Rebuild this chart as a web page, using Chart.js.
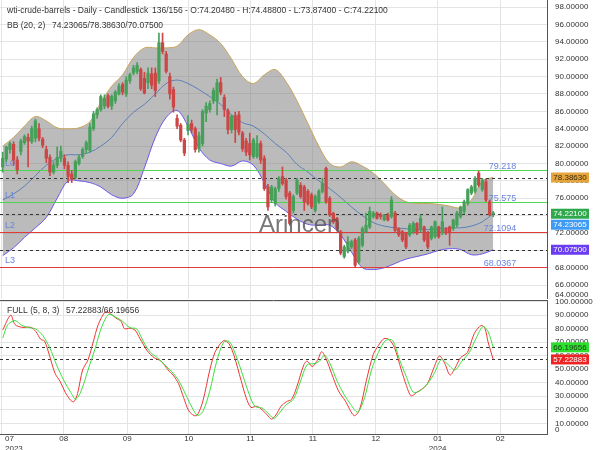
<!DOCTYPE html>
<html><head><meta charset="utf-8">
<script src="https://cdn.jsdelivr.net/npm/chart.js@4.4.1/dist/chart.umd.min.js"></script>
<style>
html,body{margin:0;padding:0;background:#fff;}
#wrap{position:relative;width:600px;height:450px;overflow:hidden;background:#fff;}
#top{position:absolute;left:0;top:0;width:600px;height:299px;}
#bot{position:absolute;left:0;top:299px;width:600px;height:151px;}
</style></head><body>
<div id="wrap"><div id="top"><canvas id="c1"></canvas></div><div id="bot"><canvas id="c2"></canvas></div></div>
<script>
// ---- candle data (index = trading day) ----
const opens = [
 79.6,80.5,81.6,82.2,80.4,81.4,82.4,83.0,82.5,82.9,
 84.0,82.8,81.6,80.7,79.0,79.8,80.6,80.6,79.8,78.8,
 78.4,80.0,80.8,81.6,81.5,84.0,85.6,86.2,86.6,87.8,
 86.6,87.2,88.0,89.1,88.0,89.5,90.4,90.6,90.8,89.8,
 89.3,90.3,90.4,89.5,93.9,92.6,90.0,88.5,85.2,84.4,
 82.7,83.8,84.6,84.0,81.7,82.3,85.8,86.2,87.2,87.2,
 89.3,87.6,86.1,83.9,85.5,85.6,83.5,82.6,82.3,80.8,
 80.8,82.3,80.6,77.3,75.8,75.4,77.1,78.5,78.1,76.6,
 74.6,76.6,77.5,77.3,76.8,76.4,74.6,75.6,76.8,79.45,
 76.0,74.26,73.7,72.15,69.3,69.9,70.4,71.2,68.7,70.6,
 72.15,72.7,73.9,74.3,74.1,73.5,74.1,73.9,74.3,72.5,
 72.15,71.96,71.8,72.15,73.1,72.35,72.7,72.0,71.4,71.6,
 72.7,72.0,72.5,72.7,72.5,72.9,73.9,74.5,75.4,76.6,
 76.8,78.9,77.0,77.9,75.6,74.2048];
const highs = [
 81.3,82.0,82.5,82.5,80.8,82.8,83.3,83.4,84.3,85.1,
 84.6,83.0,82.0,81.0,80.2,81.9,82.0,81.0,80.2,79.2,
 80.4,81.0,81.8,82.6,84.6,86.0,86.4,87.9,87.9,88.0,
 87.9,88.4,89.2,89.3,90.0,90.4,91.3,91.6,91.0,90.5,
 91.0,91.0,91.0,95.0,95.0,92.9,90.4,88.8,85.6,84.6,
 82.9,85.5,85.0,84.2,83.6,86.2,87.0,87.2,88.7,89.7,
 89.9,87.9,86.3,85.6,85.9,86.0,83.7,82.9,83.5,82.9,
 83.2,82.6,80.9,77.6,77.5,77.3,78.5,79.6,78.3,76.8,
 76.4,78.3,77.8,77.5,77.0,76.6,76.4,77.0,78.3,79.6,
 76.2,74.4,73.8,72.3,70.6,71.6,71.2,71.4,71.6,72.7,
 74.3,75.0,74.5,74.4,74.3,74.1,74.3,76.2,74.5,72.6,
 72.3,72.0,73.1,73.3,73.2,74.1,72.8,72.2,72.8,73.4,
 72.8,75.0,72.6,72.8,73.6,74.5,75.1,75.8,77.1,77.5,
 78.5,79.1,78.3,78.2,75.8,74.488];
const lows = [
 79.0,80.2,81.2,79.8,78.8,81.0,82.2,79.6,82.3,82.5,
 82.6,81.8,80.1,78.6,78.8,79.5,80.2,79.4,77.8,77.8,
 78.2,79.8,80.6,81.2,81.3,83.8,85.2,86.0,86.3,86.4,
 86.2,86.9,87.9,87.9,87.7,89.2,90.2,90.3,88.4,88.0,
 88.6,88.6,87.7,89.2,92.6,90.4,87.4,85.9,84.0,82.5,
 80.9,83.3,83.5,81.3,81.3,82.0,84.8,85.9,86.9,85.6,
 87.9,85.4,83.4,83.5,82.4,83.3,81.4,80.9,80.4,80.6,
 80.6,80.0,76.9,74.6,75.5,75.1,76.8,77.5,75.9,72.9,
 74.3,76.4,76.0,74.6,75.2,74.8,74.4,75.4,76.6,75.4,
 73.9,73.1,72.3,69.5,69.1,69.7,70.2,68.1,68.5,70.4,
 72.0,72.5,73.7,73.6,73.6,73.4,73.4,73.7,72.1,71.6,
 71.0,70.2,71.6,71.9,71.8,72.1,71.0,70.2,71.2,71.4,
 71.4,71.8,71.8,70.6,72.3,72.7,73.7,74.2,75.2,76.4,
 76.6,77.3,76.8,75.6,74.0,73.874];
const closes = [
 80.6,81.9,82.3,80.4,79.3,82.6,83.1,82.6,84.0,84.9,
 82.9,82.1,80.6,79.0,79.8,80.7,81.4,79.8,78.5,78.2,
 80.2,80.7,81.6,82.4,84.2,85.7,86.2,87.7,87.5,86.6,
 87.7,88.2,88.9,88.2,89.6,90.2,91.0,91.3,88.6,88.1,
 90.4,89.0,88.4,93.9,92.9,90.6,88.0,86.5,84.3,82.7,
 81.2,84.5,83.9,81.6,83.2,86.0,86.6,86.9,88.4,89.3,
 88.2,86.2,83.9,85.4,83.9,83.6,81.7,81.3,81.0,82.7,
 82.3,80.4,77.1,75.0,77.3,77.1,78.3,77.7,76.2,73.1,
 76.2,78.1,76.2,75.6,75.4,75.0,76.2,76.8,77.7,75.6,
 74.1,73.3,72.5,69.7,70.4,71.0,71.0,68.3,71.4,72.5,
 72.9,74.5,74.3,73.7,73.9,74.1,73.5,75.8,72.3,71.8,
 71.2,70.4,72.9,73.1,72.0,73.7,71.2,70.4,72.7,73.3,
 71.6,73.3,72.0,72.0,73.5,74.3,75.0,75.6,77.0,77.3,
 78.3,77.5,78.1,75.8,74.1,74.221];

// ---- Bollinger band (20,2) readings ----
const bandIdx  = [0,3,6,9,12,15,18,21,24,27,30,33,36,39,42,45,48,51,54,57,60,63,66,69,72,75,78,81,84,87,90,93,96,99,102,105,108,111,114,117,120,123,126,129,132,135];
const bbUpper  = [82.0,83.0,84.3,85.4,84.9,84.1,84.0,84.1,84.8,87.0,88.9,90.2,92.2,93.3,93.3,93.3,93.5,94.8,95.4,94.8,93.8,92.0,90.0,89.2,90.2,90.8,89.4,87.2,84.6,82.0,80.0,79.6,80.2,79.7,78.9,77.7,76.4,75.6,75.4,75.4,75.3,75.1,74.9,75.8,78.0,78.3863];
const bbMiddle = [75.8,76.5,77.4,78.6,79.8,80.6,81.0,81.0,81.3,82.0,83.0,84.6,85.9,86.8,88.0,89.2,89.6,89.2,88.5,87.7,86.8,85.6,84.7,84.3,83.4,82.3,81.3,79.9,79.0,78.0,77.1,76.1,75.0,74.0,73.2,72.8,72.6,72.5,72.4,72.4,72.5,72.6,72.6,72.8,73.3,74.23065];
const bbLower  = [69.4,70.3,71.5,72.6,73.8,76.0,78.0,78.0,77.8,77.3,76.4,76.0,76.5,79.5,83.0,85.3,86.1,84.3,81.8,80.4,80.0,79.7,80.3,79.8,77.8,75.5,74.5,73.6,73.0,72.9,72.9,71.8,69.8,68.0,67.8,68.0,68.5,69.0,69.3,69.6,70.0,70.2,70.1,69.5,69.6,70.075];

// ---- Full stochastic (5,8,3) readings ----
const kIdx = [0,2.2,3.4,5.3,7.7,9.1,10.5,11.5,12.9,14.4,15.8,17.2,18.7,19.6,20.6,22,23.5,24.9,26.3,28.3,29.7,31.1,32.6,33.5,35,36.4,37.8,39.8,41.7,43.6,45.5,46.9,48.4,49.8,51.2,52.7,53.6,55.1,57,58.4,59.9,61,62.3,63.7,65.6,67,68.3,69.9,71.4,72.8,74,75.2,76.6,78.1,79.5,80.9,82.9,83.8,85.2,86.7,87.8,89.1,90.5,92.4,94.3,96.7,98.2,100.1,102,103.4,104.9,106.3,107.8,109.7,111.1,112.4,114,115.4,116.9,118.8,120.2,121.6,123.1,124.5,126,127.9,129.8,131.7,132.7,133.6,135];
const kVal = [79,90,83,81,81,78,72,71,60,47,41,33,27,26,32,49.5,57,70,83,92.6,91,88,85.4,80,80.3,79,72.6,63.6,58.5,56,49.5,45.7,39.3,29,19.3,15.7,16.2,26.5,49.5,62.4,68.8,71.3,68.8,59.8,41.8,29,21.8,22.6,20,16.2,13.1,16.2,22.6,26,27.7,36.7,53.4,56,52,57,63,57,47,34,26.5,15.7,20,41.8,61,67.5,72.6,72,66.2,49.5,38,30.3,33,35.4,39.3,52,59.8,54.7,45.7,50.8,58.5,62.4,76.5,82.4,80.3,70,57.22883];
const dIdx = [0,1.4,3.4,5.3,7.2,9.1,11,12.9,14.8,16.8,18.7,20.1,21.6,23.5,25.4,27.3,29.2,31.1,33,35,36.9,38.8,40.7,42.6,44.5,46.5,48.4,50.3,52.2,53.6,55.1,57,58.9,60.8,62.3,63.7,65.6,67.5,69.4,71.4,73.3,74.7,76.1,78.1,80,81.9,83.8,85.7,87.2,88.6,90,91.95,93.9,95.8,97.7,99.6,101.5,103.4,105.4,107.3,109.2,111.1,113,114.9,116.9,118.8,120.7,122.6,124.5,126.4,128.4,130.3,132.2,133.6,135];
const dVal = [73,82.9,86,82.4,80.8,79.8,75,66.2,53.4,41.8,33,27.7,34,49.5,65,81.6,90.6,88.5,85.4,80.8,79.8,70,62.4,58.5,53.4,48.3,41.8,31.6,21.3,15.7,18.8,34,55.9,70,70.6,63.6,49.5,34,22.6,21.3,16.7,13.6,17.5,23.9,27.7,40.6,53.4,54.1,56,60.3,54.7,41.8,31.6,23.9,18.3,29,49.5,62.4,71.3,71.3,57.2,44.4,33,34.2,39.3,47,57.2,53.4,49.5,56,62.4,73,81.6,77.7,66.19656];

// ---- axes / levels ----
const monthTicks  = [-0.35,16.8,34.25,51.2,68.2,85.35,102.7,119.7,136.9];
const monthLabels = [["07","2023"],["08"],["09"],["10"],["11"],["11"],["12"],["01","2024"],["02"]];
const priceTicks  = [66,68,70,72,74,76,78,80,82,84,86,88,90,92,94,96,98];
const stochTicks  = [10,20,30,40,50,60,70,80,90,100];
const priceEdgeLabel = "64.00000";
const stochEdgeLabel = "0";
const levelVals   = [79.218,75.575,72.1094,68.0367];
const levelNames  = ["L0","L1","L2","L3"];
const levelColors = ["#4fd64f","#4fd64f","#e03a3a","#e03a3a"];
const priceDashed = [78.3863,74.221,70.075];
const stochDashed = [66.19656,57.22883];
const priceBadges = [
  {v:78.3863, t:"78.38630", bg:"#e6a53c", fg:"#3a2a10"},
  {v:74.221,  t:"74.22100", bg:"#2fa84c", fg:"#ffffff"},
  {v:74.23065,t:"74.23065", bg:"#3d9bf5", fg:"#ffffff"},
  {v:70.075,  t:"70.07500", bg:"#6a3cf2", fg:"#ffffff"}];
const stochBadges = [
  {v:66.19656,t:"66.19656", bg:"#2ee02e", fg:"#1a3a1a"},
  {v:57.22883,t:"57.22883", bg:"#ee2323", fg:"#ffffff"}];

const FONT = "'Liberation Sans', Arial, sans-serif";
const GREEN = "#46a05a", RED = "#cc4646";
const candleX = closes.map((_, i) => i);
const candleColors = candleX.map(i => closes[i] >= opens[i] ? GREEN : RED);
const pts = (xs, ys) => xs.map((x, k) => ({x: x, y: ys[k]}));

function drawBadges(ctx, yScale, list) {
  const placed = [];
  list.forEach(b => {
    let py = yScale.getPixelForValue(b.v);
    placed.forEach(p => { if (Math.abs(py - p) < 10.5) py = p + 11; });
    placed.push(py);
    ctx.fillStyle = b.bg;
    ctx.fillRect(551, py - 5, 38, 10);
    ctx.fillStyle = b.fg;
    ctx.font = "8px " + FONT;
    ctx.textAlign = "center"; ctx.textBaseline = "middle";
    ctx.fillText(b.t, 570, py + 0.5);
  });
}
function dashedLine(ctx, a, py) {
  ctx.save();
  ctx.strokeStyle = "#333"; ctx.lineWidth = 1; ctx.setLineDash([3, 3]);
  ctx.beginPath(); ctx.moveTo(a.left, Math.round(py) + 0.5); ctx.lineTo(a.right, Math.round(py) + 0.5); ctx.stroke();
  ctx.restore();
}

const topPlugin = {
  id: "topdeco",
  afterDatasetDraw(chart, args) {
    if (args.index !== 2) return;
    const ctx = chart.ctx, a = chart.chartArea, y = chart.scales.y, x = chart.scales.x;
    ctx.save();
    levelVals.forEach((v, k) => {
      const py = Math.round(y.getPixelForValue(v)) + 0.5;
      ctx.strokeStyle = levelColors[k]; ctx.lineWidth = 1;
      ctx.beginPath(); ctx.moveTo(a.left, py); ctx.lineTo(a.right, py); ctx.stroke();
      ctx.fillStyle = "#6b84dc"; ctx.font = "9px " + FONT; ctx.textBaseline = "alphabetic";
      ctx.textAlign = "left"; ctx.fillText(levelNames[k], 5, py - 5);
      ctx.textAlign = "right"; ctx.fillText(String(v), x.getPixelForValue(candleX.length - 1) + 23, py - 2);
    });
    priceDashed.forEach(v => dashedLine(ctx, a, y.getPixelForValue(v)));
    ctx.restore();
  },
  afterDatasetsDraw(chart) {
    const ctx = chart.ctx;
    ctx.save();
    ctx.font = "24px " + FONT; ctx.fillStyle = "rgba(85,85,85,0.8)";
    ctx.textAlign = "left"; ctx.textBaseline = "alphabetic";
    ctx.fillText("Arincen", 259, 232);
    ctx.restore();
  },
  afterDraw(chart) {
    const ctx = chart.ctx, a = chart.chartArea;
    ctx.save();
    ctx.fillStyle = "#333"; ctx.font = "8px " + FONT; ctx.textAlign = "left"; ctx.textBaseline = "middle";
    ctx.fillText(priceEdgeLabel, a.right + 8, a.bottom - 4);
    drawBadges(ctx, chart.scales.y, priceBadges);
    ctx.fillStyle = "#333"; ctx.font = "8.5px " + FONT; ctx.textAlign = "left"; ctx.textBaseline = "middle";
    ctx.fillText("wti-crude-barrels - Daily - Candlestick", 7, 11);
    ctx.fillText("136/156 - O:74.20480 - H:74.48800 - L:73.87400 - C:74.22100", 152, 11);
    ctx.fillText("BB (20, 2)", 7, 26);
    ctx.fillText("74.23065/78.38630/70.07500", 52, 26);
    ctx.restore();
  }
};

const botPlugin = {
  id: "botdeco",
  beforeDatasetsDraw(chart) {
    const ctx = chart.ctx, a = chart.chartArea, y = chart.scales.y;
    stochDashed.forEach(v => dashedLine(ctx, a, y.getPixelForValue(v)));
  },
  afterDraw(chart) {
    const ctx = chart.ctx, a = chart.chartArea, x = chart.scales.x;
    ctx.save();
    ctx.strokeStyle = "#555"; ctx.lineWidth = 1;
    ctx.beginPath(); ctx.moveTo(a.left, a.top + 0.5); ctx.lineTo(a.right, a.top + 0.5); ctx.stroke();
    ctx.fillStyle = "#333"; ctx.font = "8px " + FONT; ctx.textAlign = "left"; ctx.textBaseline = "middle";
    ctx.fillText(stochEdgeLabel, a.right + 8, a.bottom - 4);
    drawBadges(ctx, chart.scales.y, stochBadges);
    ctx.fillStyle = "#333"; ctx.font = "8.5px " + FONT; ctx.textAlign = "left"; ctx.textBaseline = "middle";
    ctx.fillText("FULL (5, 8, 3)", 7, 12);
    ctx.fillText("57.22883/66.19656", 66, 12);
    ctx.font = "8px " + FONT; ctx.textBaseline = "middle";
    monthTicks.forEach((t, k) => {
      const px = x.getPixelForValue(t);
      monthLabels[k].forEach((s, j) => {
        const w = ctx.measureText(s).width;
        const left = Math.max(px - w / 2, 5);
        ctx.fillText(s, left, a.bottom + 5 + j * 10);
      });
    });
    ctx.restore();
  }
};

const xCommon = () => ({
  type: "linear", min: -0.74, max: 149.8, offset: false,
  grid: {color: "#e4e4e4", drawTicks: false, offset: false},
  border: {display: true, color: "#555"},
  ticks: {display: false},
  afterBuildTicks: s => { s.ticks = monthTicks.map(v => ({value: v})); }
});
const yCommon = (min, max, ticks) => ({
  position: "right", min: min, max: max,
  grid: {color: "#e4e4e4", drawTicks: false},
  border: {display: true, color: "#555"},
  ticks: {color: "#333", font: {size: 8, family: FONT}, padding: 8, callback: v => Number(v).toFixed(5)},
  afterBuildTicks: s => { s.ticks = ticks.map(v => ({value: v})); },
  afterFit: s => { s.width = 53; s.paddingTop = 0; s.paddingBottom = 0; }
});

new Chart(document.getElementById("c1"), {
  type: "bar",
  data: {datasets: [
    {type: "line", data: pts(bandIdx, bbUpper), borderColor: "#c9a45a", borderWidth: 1, pointRadius: 0, tension: 0.35,
     fill: 1, backgroundColor: "rgba(125,125,125,0.52)", order: 5},
    {type: "line", data: pts(bandIdx, bbLower), borderColor: "#6a58ea", borderWidth: 1, pointRadius: 0, tension: 0.35, fill: false, order: 4},
    {type: "line", data: pts(bandIdx, bbMiddle), borderColor: "#5a7fb8", borderWidth: 1, pointRadius: 0, tension: 0.35, fill: false, order: 3},
    {type: "bar", data: candleX.map(i => ({x: i, y: [lows[i], highs[i]]})), backgroundColor: candleColors,
     barThickness: 1, grouped: false, order: 2},
    {type: "bar", data: candleX.map(i => ({x: i, y: [opens[i], closes[i]]})), backgroundColor: candleColors,
     barThickness: 2.6, grouped: false, minBarLength: 1, order: 1}
  ]},
  options: {
    responsive: true, maintainAspectRatio: false, animation: false,
    layout: {padding: 0},
    plugins: {legend: {display: false}, tooltip: {enabled: false}},
    scales: {x: xCommon(), y: yCommon(64.41, 98.81, priceTicks)}
  },
  plugins: [topPlugin]
});

new Chart(document.getElementById("c2"), {
  type: "line",
  data: {datasets: [
    {data: pts(dIdx, dVal), borderColor: "#3ce03c", borderWidth: 1, pointRadius: 0, tension: 0.3, fill: false},
    {data: pts(kIdx, kVal), borderColor: "#ee3535", borderWidth: 1, pointRadius: 0, tension: 0.3, fill: false}
  ]},
  options: {
    responsive: true, maintainAspectRatio: false, animation: false,
    layout: {padding: {top: 1, bottom: 16}},
    plugins: {legend: {display: false}, tooltip: {enabled: false}},
    scales: {x: xCommon(), y: yCommon(2.1, 101.2, stochTicks)}
  },
  plugins: [botPlugin]
});
</script>
</body></html>
